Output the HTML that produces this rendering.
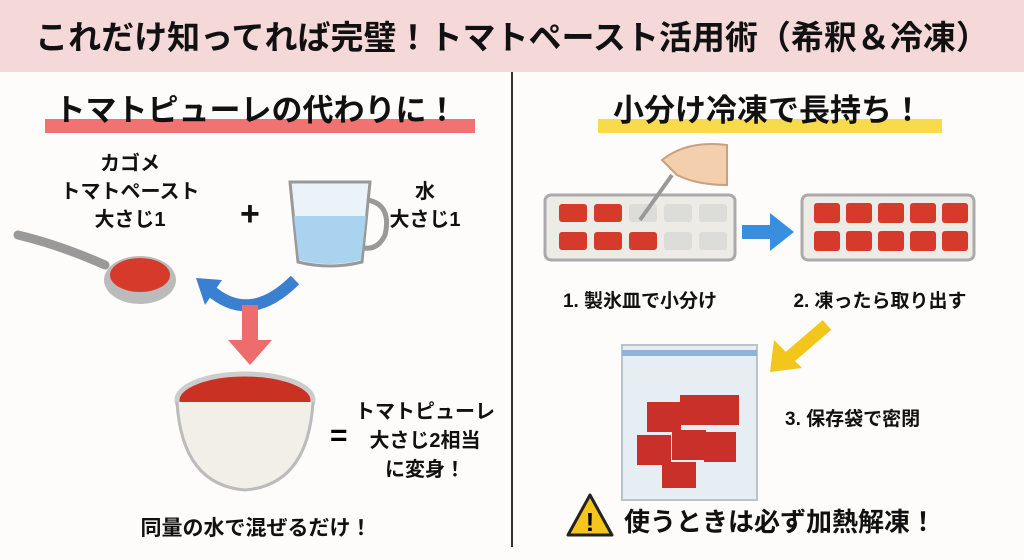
<!DOCTYPE html>
<html><head><meta charset="utf-8"><style>
body{margin:0;width:1024px;height:559px;background:#fdfcfa;position:relative;overflow:hidden;font-family:"Liberation Sans","Noto Sans CJK JP",sans-serif;font-weight:bold;color:#111}
.a{position:absolute;white-space:nowrap}
.c{text-align:center}
</style></head><body>
<div class="a" style="left:0;top:0;width:1024px;height:72px;background:#f5d8d8"></div>
<div class="a c" style="left:0;top:18px;width:1024px;font-size:33px;letter-spacing:0px;line-height:40px">これだけ知ってれば完璧！トマトペースト活用術（希釈＆冷凍）</div>
<div class="a" style="left:511px;top:72px;width:2px;height:475px;background:#333"></div>

<div class="a" style="left:45px;top:119px;width:430px;height:14px;background:#f27272"></div>
<div class="a c" style="left:0;top:92px;width:512px;font-size:31px;line-height:38px">トマトピューレの代わりに！</div>
<div class="a" style="left:598px;top:119px;width:344px;height:14px;background:#f7db4a"></div>
<div class="a c" style="left:512px;top:92px;width:512px;font-size:31px;line-height:38px">小分け冷凍で長持ち！</div>

<div class="a c" style="left:50px;top:150px;width:160px;font-size:20px;line-height:28px">カゴメ<br>トマトペースト<br>大さじ1</div>
<div class="a" style="left:240px;top:195px;font-size:34px">+</div>
<div class="a c" style="left:375px;top:178px;width:100px;font-size:20px;line-height:28px">水<br>大さじ1</div>

<svg class="a" style="left:0;top:150px" width="512" height="400">
 <path d="M18 85 Q60 95 105 115" stroke="#999" stroke-width="9" fill="none" stroke-linecap="round"/>
 <ellipse cx="140" cy="130" rx="36" ry="24" fill="#bbb"/>
 <ellipse cx="140" cy="125" rx="30" ry="17" fill="#d63a2a"/>
 <path d="M290 32 L298 112 Q330 120 362 112 L370 32 Z" fill="#eaf3f8" stroke="#999" stroke-width="3"/>
 <path d="M294 66 L299 110 Q330 118 361 110 L366 66 Z" fill="#a9d3ef"/>
 <path d="M368 50 Q392 55 385 85 Q378 100 364 98" fill="none" stroke="#999" stroke-width="5"/>
 <path d="M295 130 Q250 175 210 140" fill="none" stroke="#3a7fd0" stroke-width="12"/>
 <polygon points="196,128 222,130 205,155" fill="#3a7fd0"/>
 <polygon points="242,155 258,155 258,190 272,190 250,215 228,190 242,190" fill="#ef6c6c"/>
 <ellipse cx="245" cy="250" rx="68" ry="26" fill="#c93222" stroke="#ccc" stroke-width="5"/>
 <path d="M177 252 Q182 335 245 340 Q308 335 313 252" fill="#f2efe8" stroke="#bbb" stroke-width="3"/>
 <text x="330" y="295" font-size="30" font-weight="bold" font-family="Liberation Sans">=</text>
</svg>
<div class="a c" style="left:345px;top:398px;width:160px;font-size:20px;line-height:29px">トマトピューレ<br>大さじ2相当<br>に変身！</div>
<div class="a c" style="left:0;top:512px;width:512px;font-size:21px">同量の水で混ぜるだけ！</div>

<svg class="a" style="left:512px;top:140px" width="512" height="420">
 <rect x="33" y="55" width="190" height="65" rx="6" fill="#ecebe6" stroke="#aaa" stroke-width="3"/>
 <g fill="#d63a2a">
  <rect x="47" y="64" width="28" height="18" rx="3"/><rect x="82" y="64" width="28" height="18" rx="3"/>
  <rect x="47" y="92" width="28" height="18" rx="3"/><rect x="82" y="92" width="28" height="18" rx="3"/><rect x="117" y="92" width="28" height="18" rx="3"/>
 </g>
 <g fill="#dcdcd8"><rect x="117" y="64" width="28" height="18" rx="3"/><rect x="152" y="64" width="28" height="18" rx="3"/><rect x="187" y="64" width="28" height="18" rx="3"/><rect x="152" y="92" width="28" height="18" rx="3"/><rect x="187" y="92" width="28" height="18" rx="3"/></g>
 <path d="M150 20 Q175 0 215 5 L215 45 Q185 45 165 35 Z" fill="#f3cfae" stroke="#c9a080" stroke-width="2"/>
 <path d="M160 35 L128 80" stroke="#999" stroke-width="4"/>
 <polygon points="230,85 258,85 258,73 282,92 258,111 258,99 230,99" fill="#3a8ee0"/>
 <rect x="290" y="55" width="172" height="65" rx="6" fill="#ecebe6" stroke="#aaa" stroke-width="3"/>
 <g fill="#d63a2a">
  <rect x="302" y="63" width="26" height="20" rx="3"/><rect x="334" y="63" width="26" height="20" rx="3"/><rect x="366" y="63" width="26" height="20" rx="3"/><rect x="398" y="63" width="26" height="20" rx="3"/><rect x="430" y="63" width="26" height="20" rx="3"/>
  <rect x="302" y="91" width="26" height="20" rx="3"/><rect x="334" y="91" width="26" height="20" rx="3"/><rect x="366" y="91" width="26" height="20" rx="3"/><rect x="398" y="91" width="26" height="20" rx="3"/><rect x="430" y="91" width="26" height="20" rx="3"/>
 </g>
 <path d="M315 185 L272 222" stroke="#f3c61b" stroke-width="13"/>
 <polygon points="258,232 262,200 290,228" fill="#f3c61b"/>
 <rect x="110" y="205" width="135" height="155" fill="#e6eef4" stroke="#b8c4cc" stroke-width="2"/>
 <rect x="110" y="210" width="135" height="6" fill="#8fb3d6"/>
 <g fill="#c9302a">
  <rect x="135" y="262" width="34" height="30"/><rect x="168" y="255" width="34" height="30"/><rect x="195" y="255" width="32" height="30"/>
  <rect x="125" y="295" width="34" height="30"/><rect x="160" y="290" width="34" height="30"/><rect x="192" y="292" width="32" height="30"/><rect x="150" y="322" width="34" height="26"/>
 </g>
 <polygon points="78,355 100,395 56,395" fill="#f5c51c" stroke="#222" stroke-width="3" stroke-linejoin="round"/>
 <text x="78" y="391" text-anchor="middle" font-size="26" font-weight="bold" font-family="Liberation Sans">!</text>
</svg>
<div class="a c" style="left:540px;top:286px;width:200px;font-size:19px">1. 製氷皿で小分け</div>
<div class="a c" style="left:780px;top:286px;width:200px;font-size:19px">2. 凍ったら取り出す</div>
<div class="a" style="left:785px;top:404px;font-size:19px">3. 保存袋で密閉</div>
<div class="a" style="left:624px;top:505px;font-size:26px;line-height:34px">使うときは必ず加熱解凍！</div>
</body></html>
